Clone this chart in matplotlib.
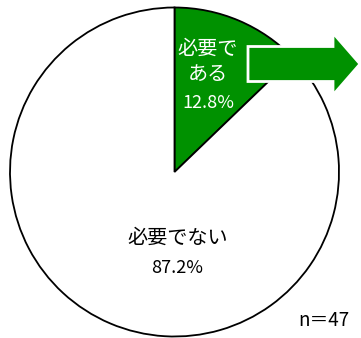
import matplotlib
matplotlib.use("Agg")
import matplotlib.pyplot as plt
from matplotlib.patches import FancyArrow

plt.rcParams['font.family'] = ['Noto Sans CJK JP', 'DejaVu Sans']

labels = ["必要で\nある", "必要でない"]
values = [12.8, 87.2]
colors = ["#009100", "white"]
n_total = 47

W, H = 361, 338
fig = plt.figure(figsize=(W / 100, H / 100), dpi=100)
ax = fig.add_axes([0, 0, 1, 1])

cx, cy, r = 174.5, H - 172, 164.5
ax.pie(values, colors=colors, startangle=90, counterclock=False,
       center=(cx, cy), radius=r,
       wedgeprops=dict(edgecolor="black", linewidth=1.3))
ax.set_xlim(0, W)
ax.set_ylim(0, H)
ax.set_aspect("equal")
ax.axis("off")

# labels (name and percentage set separately; numbers are narrower in the original)
ax.text(208, H - 62, labels[0], color="white", ha="center", va="center",
        fontsize=14.5, linespacing=1.3)
ax.text(208, H - 103, f"{values[0]:.1f}%", color="white", ha="center",
        va="center", fontsize=13)
ax.text(cx + 3, H - 238, labels[1], color="black", ha="center", va="center",
        fontsize=14.5)
ax.text(cx + 3, H - 268, f"{values[1]:.1f}%", color="black", ha="center",
        va="center", fontsize=13)

# arrow
arr = FancyArrow(248, H - 64, 112, 0, width=35, head_width=62, head_length=27,
                 length_includes_head=True, facecolor="#009100",
                 edgecolor="white", linewidth=2)
ax.add_patch(arr)

ax.text(349, H - 320, f"n＝{n_total}", ha="right", va="center", fontsize=13.5)

fig.savefig("out.png", dpi=100)
